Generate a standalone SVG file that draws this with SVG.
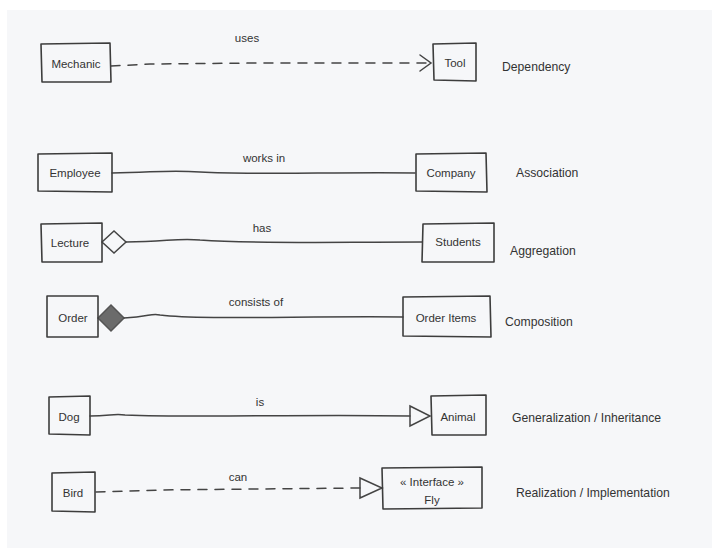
<svg xmlns="http://www.w3.org/2000/svg" width="715" height="551" viewBox="0 0 715 551">
<style>
.box{fill:none;stroke:#3d3d3d;stroke-width:1.6;stroke-linejoin:round;stroke-linecap:round}
.ln{fill:none;stroke:#444;stroke-width:1.5;stroke-linecap:round}
.dash{stroke-dasharray:9 8}
.t{font-family:"Liberation Sans",Arial,sans-serif;font-size:11.5px;fill:#333;text-anchor:middle;dominant-baseline:central}
.lbl{font-family:"Liberation Sans",Arial,sans-serif;font-size:12.2px;fill:#333;dominant-baseline:central}
</style>
<rect x="0" y="0" width="715" height="551" fill="#ffffff"/>
<rect x="7" y="10" width="705" height="538" fill="#f6f7f9"/>
<g id="connectors">
  <path class="ln dash" d="M111 66 L150 64 L260 63 L428 63"/>
  <path class="ln" d="M420 55 L431 63 L420 71"/>
  <text class="t" x="247" y="38">uses</text>
  <path class="ln" d="M112 173 C160 172 170 170 200 172 C260 175 330 172 415 173"/>
  <text class="t" x="264" y="158">works in</text>
  <path class="ln" d="M102 242 L114 231 L126 242 L114 253 Z"/>
  <path class="ln" d="M126 242 C170 241 180 238 200 240 C260 244 330 242 422 242"/>
  <text class="t" x="262" y="228">has</text>
  <path d="M98 318 L111 305 L124 318 L111 331 Z" fill="#6b6b6b" stroke="#555" stroke-width="1.5"/>
  <path class="ln" d="M124 318 C150 317 150 313 160 315 C200 320 300 316 403 317"/>
  <text class="t" x="256" y="302">consists of</text>
  <path class="ln" d="M90 416 C110 416 115 413 125 415 C200 418 300 414 410 416"/>
  <path class="ln" d="M410 406 L430 416 L410 426 Z"/>
  <text class="t" x="260" y="402">is</text>
  <path class="ln dash" d="M96 492 L160 490 L260 489 L360 488"/>
  <path class="ln" d="M360 478 L382 488 L360 498 Z"/>
  <text class="t" x="238" y="477">can</text>
</g>
<g id="mechanic">
  <path class="box" d="M41 44 L110 43 L111 82 L42 82 Z"/>
  <text class="t" x="76" y="64">Mechanic</text>
</g>
<g id="tool">
  <path class="box" d="M433 44 L476 43 L476 81 L434 80 Z"/>
  <text class="t" x="455" y="63">Tool</text>
</g>
<text class="lbl" x="502" y="67">Dependency</text>
<g id="employee">
  <path class="box" d="M38 154 L112 153 L112 192 L38 191 Z"/>
  <text class="t" x="75" y="173">Employee</text>
</g>
<g id="company">
  <path class="box" d="M416 154 L486 153 L487 192 L416 191 Z"/>
  <text class="t" x="451" y="173">Company</text>
</g>
<text class="lbl" x="516" y="173">Association</text>
<g id="lecture">
  <path class="box" d="M41 224 L102 223 L102 262 L42 262 Z"/>
  <text class="t" x="70" y="243">Lecture</text>
</g>
<g id="students">
  <path class="box" d="M423 224 L494 223 L494 262 L422 262 Z"/>
  <text class="t" x="458" y="242">Students</text>
</g>
<text class="lbl" x="510" y="251">Aggregation</text>
<g id="order">
  <path class="box" d="M47 296 L98 296 L98 337 L47 337 Z"/>
  <text class="t" x="73" y="318">Order</text>
</g>
<g id="orderitems">
  <path class="box" d="M403 297 L490 296 L491 337 L403 336 Z"/>
  <text class="t" x="446" y="318">Order Items</text>
</g>
<text class="lbl" x="505" y="322">Composition</text>
<g id="dog">
  <path class="box" d="M49 397 L90 396 L90 435 L49 434 Z"/>
  <text class="t" x="69" y="417">Dog</text>
</g>
<g id="animal">
  <path class="box" d="M431 396 L486 395 L486 435 L432 435 Z"/>
  <text class="t" x="458" y="417">Animal</text>
</g>
<text class="lbl" x="512" y="418">Generalization / Inheritance</text>
<g id="bird">
  <path class="box" d="M52 473 L95 472 L95 512 L52 511 Z"/>
  <text class="t" x="73" y="493">Bird</text>
</g>
<g id="fly">
  <path class="box" d="M382 468 L482 467 L482 508 L383 509 Z"/>
  <text class="t" x="432" y="482">« Interface »</text>
  <text class="t" x="432" y="500">Fly</text>
</g>
<text class="lbl" x="516" y="493">Realization / Implementation</text>
</svg>
